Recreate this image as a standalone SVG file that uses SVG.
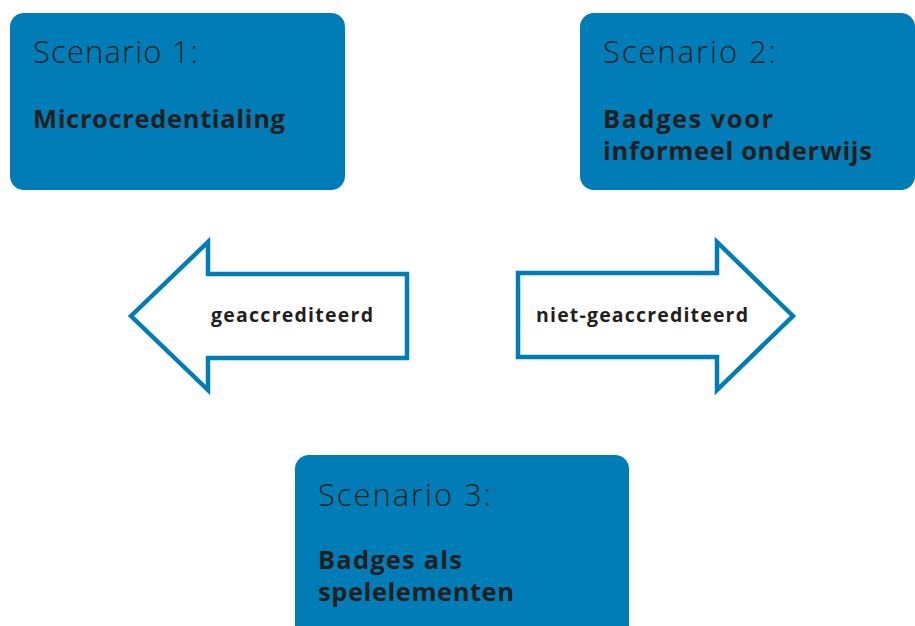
<svg xmlns="http://www.w3.org/2000/svg" width="915" height="626" viewBox="0 0 915 626">
<style>
.box{fill:#007DB7}
.title{font-family:"Open Sans","Liberation Sans",sans-serif;font-weight:300;font-size:31px;fill:#231F20}
.sub{font-family:"Open Sans","Liberation Sans",sans-serif;font-weight:700;font-size:25.5px;fill:#231F20}
.arrow{fill:#fff;stroke:#007DB7;stroke-width:4.5;stroke-linejoin:miter}
.lbl{font-family:"Open Sans","Liberation Sans",sans-serif;font-weight:700;font-size:19.5px;fill:#231F20}
</style>
<rect width="915" height="626" fill="#fff"/>
<g id="scenario1">
<rect class="box" x="10" y="13" width="335" height="177" rx="14"/>
<text class="title" x="33" y="63" textLength="165" lengthAdjust="spacing">Scenario 1:</text>
<text class="sub" x="33" y="128" textLength="252" lengthAdjust="spacing">Microcredentialing</text>
</g>
<g id="scenario2">
<rect class="box" x="580" y="13" width="335" height="177" rx="14"/>
<text class="title" x="603" y="63" textLength="173" lengthAdjust="spacing">Scenario 2:</text>
<text class="sub" x="603" y="128" textLength="170" lengthAdjust="spacing">Badges voor</text>
<text class="sub" x="603" y="160" textLength="269" lengthAdjust="spacing">informeel onderwijs</text>
</g>
<g id="scenario3">
<rect class="box" x="295" y="455" width="334" height="190" rx="14"/>
<text class="title" x="318" y="506" textLength="173" lengthAdjust="spacing">Scenario 3:</text>
<text class="sub" x="318" y="569" textLength="144" lengthAdjust="spacing">Badges als</text>
<text class="sub" x="318" y="601" textLength="196" lengthAdjust="spacing">spelelementen</text>
</g>
<g id="connectors">
<g id="arrow-left">
<polygon class="arrow" points="131,316 208,242 208,274 407,274 407,358 208,358 208,390"/>
<text class="lbl" x="211" y="322" textLength="162" lengthAdjust="spacing">geaccrediteerd</text>
</g>
<g id="arrow-right">
<polygon class="arrow" points="793,316 717,242 717,273 518,273 518,357 717,357 717,390"/>
<text class="lbl" x="536" y="322" textLength="212" lengthAdjust="spacing">niet-geaccrediteerd</text>
</g>
</g>
</svg>
